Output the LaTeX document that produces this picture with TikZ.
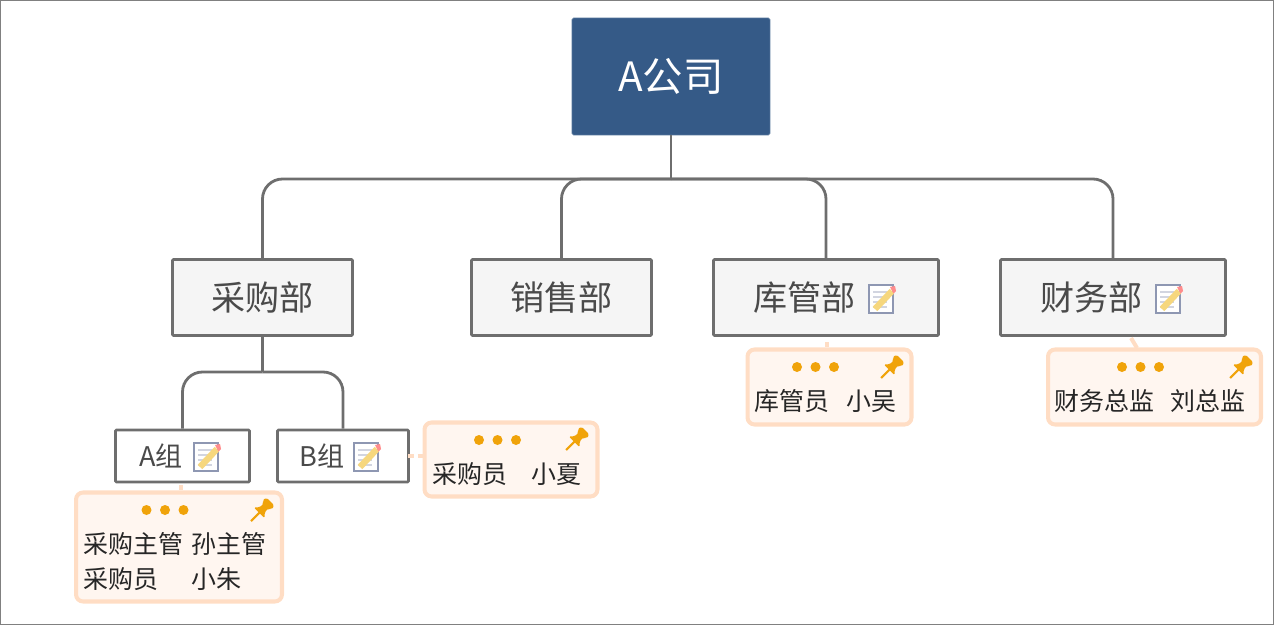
\documentclass[tikz,border=0pt]{standalone}
\usepackage{fontspec}
\setmainfont{Noto Sans CJK SC}
\usepackage{xcolor}
\usetikzlibrary{positioning}
\definecolor{rootblue}{HTML}{355A87}
\definecolor{linegray}{HTML}{6E6E6E}
\definecolor{inkgray}{HTML}{4A4A4A}
\definecolor{tagedge}{HTML}{FFDDC4}
\definecolor{tagfill}{HTML}{FFF6F0}
\definecolor{tagorange}{HTML}{F0A30A}
\definecolor{iconedge}{HTML}{8E97B2}
\definecolor{pencil}{HTML}{F6D77E}

\tikzset{
  root/.style={draw=rootblue!85!white, fill=rootblue, rounded corners=1pt, line width=0.5pt, minimum width=3.96cm, minimum height=2.34cm, inner sep=0pt, text=white, font=\fontsize{23}{23}\selectfont},
  dept/.style={draw=linegray, fill=gray!8, line width=1.5pt, rounded corners=0.5pt, minimum height=1.52cm, inner sep=0pt, text=inkgray, font=\fontsize{19.4}{19.4}\selectfont},
  team/.style={draw=linegray, fill=white, line width=1.5pt, rounded corners=0.5pt, minimum height=1.04cm, inner sep=0pt, text=inkgray, font=\fontsize{15.4}{15.4}\selectfont},
  tag/.style={draw=tagedge, fill=tagfill, line width=2.3pt, rounded corners=4pt, inner sep=0pt},
  tagtext/.style={anchor=west, inner sep=0pt, text=black!85, font=\fontsize{14.2}{14.2}\selectfont},
  link/.style={draw=linegray, line width=1.6pt, rounded corners=0.4cm},
  taglink/.style={draw=tagedge, line width=2.3pt},
  noteicon/.pic={
    \draw[draw=iconedge, fill=white, line width=1.4pt] (-12,-14) rectangle (12,14);
    \foreach \y in {-7,-2,3,8} \draw[draw=iconedge!40, line width=0.6pt] (-8,\y) -- (6,\y);
    \draw[draw=pencil, line width=3.6pt] (-6,10) -- (11,-8);
    \fill[red!45!white] (9,-12) -- (14,-13) -- (15,-8) -- (12.5,-5.5) -- cycle;
  },
  pinicon/.pic={
    \draw[draw=tagorange, line width=1.2pt] (-11,11) -- (-2,2);
    \fill[tagorange, rounded corners=1pt, rotate=45] (-4,-8) -- (0,-3.5) -- (6,-3.5) -- (7,-6.5) -- (12,-5.5) -- (12,5.5) -- (7,6.5) -- (6,3.5) -- (0,3.5) -- (-4,8) -- cycle;
  },
  tagdots/.pic={
    \foreach \x in {-18.5,0,18.5} \fill[tagorange] (\x,0) circle (5);
  }
}

\begin{document}
\begin{tikzpicture}[x=0.02cm, y=-0.02cm]
\useasboundingbox (0,0) rectangle (1274,625);
\draw[draw=gray, line width=0.6pt] (0.5,0.5) rectangle (1273.5,624.5);

\node[root] (company) at (671,76.5) {\raisebox{-0.5pt}{A公司}};

\node[dept, minimum width=3.6cm] (buy) at (262.5,297.5) {\raisebox{-0.5pt}{采购部}};
\node[dept, minimum width=3.6cm] (sale) at (561.5,297.5) {\raisebox{-0.5pt}{销售部}};
\node[dept, minimum width=4.5cm] (store) at (826,297.5) {\raisebox{-0.5pt}{库管部}\kern24pt};
\node[dept, minimum width=4.5cm] (finance) at (1113,297.5) {\raisebox{-0.5pt}{财务部}\kern24pt};
\node[team, minimum width=2.68cm] (groupa) at (182.5,456) {A组\kern24.4pt};
\node[team, minimum width=2.62cm] (groupb) at (343,456) {B组\kern24pt};

\pic at (881,299) {noteicon};
\pic at (1168,299) {noteicon};
\pic at (206,457) {noteicon};
\pic at (366,457) {noteicon};

% connectors
\coordinate (bus) at (671,179);
\coordinate (subbus) at (262.5,372);
\draw[link] (company) -- (bus);
\draw[link] (bus) -| (buy.north);
\draw[link] (bus) -| (sale.north);
\draw[link] (bus) -| (store.north);
\draw[link] (bus) -| (finance.north);
\draw[link] (buy.south) -- (subbus);
\draw[link] (subbus) -| (groupa.north);
\draw[link] (subbus) -| (groupb.north);

% tags
\node[tag, minimum width=4.12cm, minimum height=2.18cm] (tagc) at (179,547) {};
\node[tag, minimum width=3.46cm, minimum height=1.48cm] (tagb) at (511,459.5) {};
\node[tag, minimum width=3.28cm, minimum height=1.5cm] (tagd) at (829.5,387) {};
\node[tag, minimum width=4.26cm, minimum height=1.5cm] (tage) at (1154.5,387) {};

\coordinate (stubc) at (181,485);
\coordinate (stubb) at (408,456);
\coordinate (stubd) at (827,342);
\coordinate (stube) at (1131,338);
\coordinate (stubf) at (1137,348);
\draw[taglink] (stubc) -- (stubc |- tagc.north);
\draw[taglink, dash pattern=on 3.5pt off 2pt] (stubb) -- (stubb -| tagb.west);
\draw[taglink] (stubd) -- (stubd |- tagd.north);
\draw[taglink] (stube) -- (stubf);

\pic at (165,510) {tagdots};
\pic at (497.5,440) {tagdots};
\pic at (815.5,367) {tagdots};
\pic at (1140.5,367) {tagdots};

\pic at (262,510) {pinicon};
\pic at (577,439) {pinicon};
\pic at (892,367) {pinicon};
\pic at (1241,367) {pinicon};

\node[tagtext] (ca) at (83,544) {采购主管};
\node[tagtext] (cb) at (191,544) {孙主管};
\node[tagtext] (cc) at (83,579) {采购员};
\node[tagtext] (cd) at (191,579) {小朱};
\node[tagtext] (ba) at (432,474) {采购员};
\node[tagtext] (bb) at (531,474) {小夏};
\node[tagtext] (da) at (754,401) {库管员};
\node[tagtext] (db) at (846,401) {小吴};
\node[tagtext] (ea) at (1054,401) {财务总监};
\node[tagtext] (eb) at (1170,401) {刘总监};

\end{tikzpicture}
\end{document}
